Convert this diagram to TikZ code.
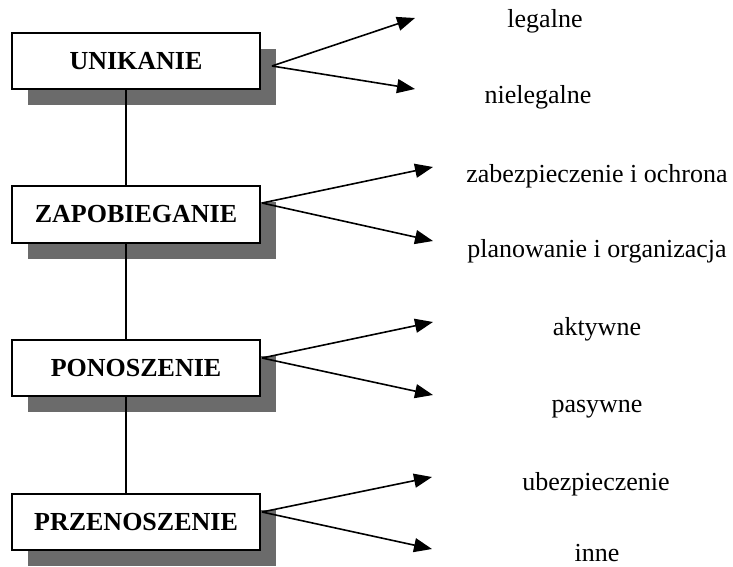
\documentclass[tikz,border=0pt]{standalone}
\usepackage{fontspec}
\setmainfont{Liberation Serif}
\usetikzlibrary{arrows.meta,shadows}

\tikzset{
  label text/.style={font=\fontsize{26}{31}\selectfont, anchor=base, inner sep=0pt},
  riskbox/.style={draw, line width=1.6pt, fill=white, inner sep=0pt,
    minimum width=248.5pt, minimum height=56.5pt,
    font=\fontsize{26}{31}\selectfont\bfseries,
    general shadow={fill=black!58, shadow xshift=16pt, shadow yshift=-16pt}},
  branch/.style={line width=1.6pt, -{Triangle[length=18pt,width=14pt]}},
  spine/.style={line width=1.2pt}
}

\begin{document}
\begin{tikzpicture}[x=1pt,y=-1pt]

  \useasboundingbox (0,0) rectangle (733,567);

  %% boxes
  \node[riskbox] (unik) at (136,61) {UNIKANIE};
  \node[riskbox] (zapo) at (136,214.5) {ZAPOBIEGANIE};
  \node[riskbox] (pono) at (136,368) {PONOSZENIE};
  \node[riskbox] (prze) at (136,522) {PRZENOSZENIE};

  %% box to box
  \draw[spine] ([xshift=-10pt]unik.south) -- ([xshift=-10pt]zapo.north);
  \draw[spine] ([xshift=-10pt]zapo.south) -- ([xshift=-10pt]pono.north);
  \draw[spine] ([xshift=-10pt]pono.south) -- ([xshift=-10pt]prze.north);

  %% branch roots
  \coordinate (unik o) at (272,66);
  \coordinate (zapo o) at (262,203);
  \coordinate (pono o) at (262,358);
  \coordinate (prze o) at (262,512);

  %% branch tips
  \coordinate (unik a) at (415,18);  \coordinate (unik b) at (415,89);
  \coordinate (zapo a) at (433,167); \coordinate (zapo b) at (433,241);
  \coordinate (pono a) at (433,322); \coordinate (pono b) at (433,395);
  \coordinate (prze a) at (432,477); \coordinate (prze b) at (432,549);

  %% box to branch
  \draw[branch] (unik o) -- (unik a);
  \draw[branch] (unik o) -- (unik b);
  \draw[branch] (zapo o) -- (zapo a);
  \draw[branch] (zapo o) -- (zapo b);
  \draw[branch] (pono o) -- (pono a);
  \draw[branch] (pono o) -- (pono b);
  \draw[branch] (prze o) -- (prze a);
  \draw[branch] (prze o) -- (prze b);

  %% branch labels
  \node[label text] (legal)  at (545,28)  {legalne};
  \node[label text] (nlegal) at (538,103) {nielegalne};
  \node[label text] (zabez)  at (597,182) {zabezpieczenie i ochrona};
  \node[label text] (plan)   at (597,257) {planowanie i organizacja};
  \node[label text] (akt)    at (597,335) {aktywne};
  \node[label text] (pas)    at (597,412) {pasywne};
  \node[label text] (ubez)   at (596,490) {ubezpieczenie};
  \node[label text] (inne)   at (597,561) {inne};

\end{tikzpicture}
\end{document}
